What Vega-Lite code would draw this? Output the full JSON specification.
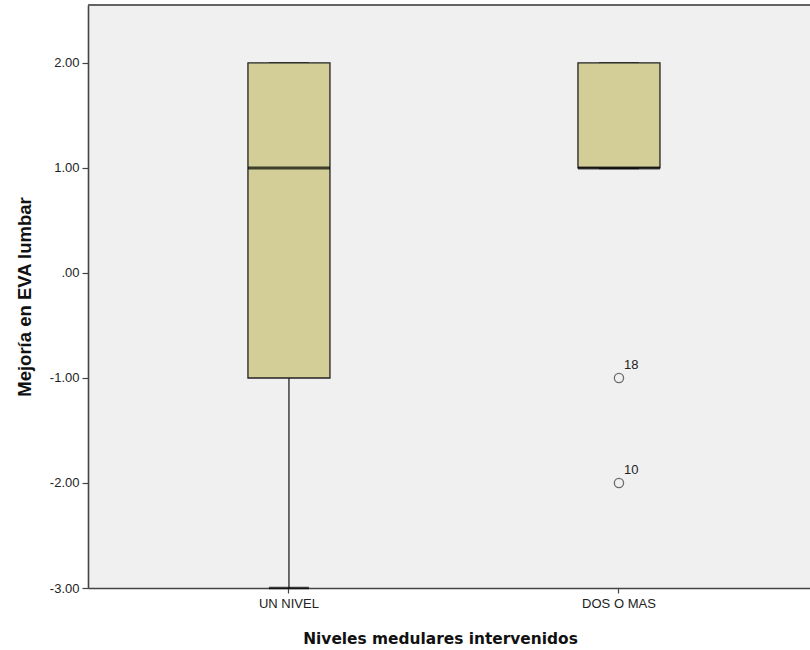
{
  "$schema": "https://vega.github.io/schema/vega-lite/v6.json",
  "width": 722,
  "height": 583,
  "autosize": {"type": "none"},
  "padding": {"left": 88, "top": 5, "right": 0, "bottom": 62},
  "background": "white",
  "config": {
    "view": {"fill": "#f0f0f0", "stroke": null},
    "axis": {
      "labelFont": "Liberation Sans",
      "labelFontSize": 13,
      "labelColor": "#222222",
      "titleFont": "DejaVu Sans",
      "titleFontWeight": "bold",
      "titleFontSize": 15.4,
      "titleColor": "#111111",
      "domainColor": "#444444",
      "domainWidth": 1.6,
      "tickColor": "#444444",
      "tickWidth": 1.2,
      "grid": false
    }
  },
  "datasets": {
    "boxes": [
      {"grupo": "UN NIVEL", "lower": -3, "q1": -1, "median": 1, "q3": 2, "upper": 2},
      {"grupo": "DOS O MAS", "lower": 1, "q1": 1, "median": 1, "q3": 2, "upper": 2}
    ],
    "outliers": [
      {"grupo": "DOS O MAS", "valor": -1, "caso": "18"},
      {"grupo": "DOS O MAS", "valor": -2, "caso": "10"}
    ]
  },
  "encoding": {
    "x": {
      "field": "grupo",
      "type": "nominal",
      "sort": ["UN NIVEL", "DOS O MAS"],
      "scale": {"paddingInner": 0, "paddingOuter": 0.0939, "align": 0.58},
      "axis": {
        "title": "Niveles medulares intervenidos",
        "labelAngle": 0,
        "tickSize": 5,
        "labelPadding": 4,
        "titlePadding": 21,
        "titleX": 352
      }
    }
  },
  "layer": [
    {
      "data": {"name": "boxes"},
      "mark": {"type": "rule", "color": "#111111", "strokeWidth": 1.2},
      "encoding": {
        "y": {
          "field": "lower",
          "type": "quantitative",
          "scale": {"domain": [-3, 2.552], "nice": false, "zero": false},
          "axis": {
            "title": "Mejoría en EVA lumbar",
            "titleFont": "Liberation Sans",
            "titleFontSize": 18.5,
            "values": [-3, -2, -1, 0, 1, 2],
            "labelExpr": "datum.value == 0 ? '.00' : replace(format(datum.value, '.2f'), '\u2212', '-')",
            "tickSize": 6,
            "labelPadding": 3,
            "titlePadding": 15
          }
        },
        "y2": {"field": "upper"}
      }
    },
    {
      "data": {"name": "boxes"},
      "mark": {"type": "rule", "color": "#5a5a5a", "strokeWidth": 1.6},
      "encoding": {"x": null, "y": {"datum": 2.552, "type": "quantitative"}}
    },
    {
      "data": {"name": "boxes"},
      "mark": {"type": "tick", "color": "#000000", "size": 40, "thickness": 2.5},
      "encoding": {"y": {"field": "lower", "type": "quantitative"}}
    },
    {
      "data": {"name": "boxes"},
      "mark": {"type": "tick", "color": "#111111", "size": 40, "thickness": 2},
      "encoding": {"y": {"field": "upper", "type": "quantitative"}}
    },
    {
      "data": {"name": "boxes"},
      "mark": {"type": "bar", "size": 82, "fill": "#d3ce97", "stroke": "#222222", "strokeWidth": 1.3},
      "encoding": {
        "y": {"field": "q1", "type": "quantitative"},
        "y2": {"field": "q3"}
      }
    },
    {
      "data": {"name": "boxes"},
      "mark": {"type": "tick", "color": "#000000", "size": 82, "thickness": 3},
      "encoding": {"y": {"field": "median", "type": "quantitative"}}
    },
    {
      "data": {"name": "outliers"},
      "mark": {"type": "point", "shape": "circle", "size": 85, "filled": false, "stroke": "#333333", "strokeWidth": 1.3},
      "encoding": {"y": {"field": "valor", "type": "quantitative"}}
    },
    {
      "data": {"name": "outliers"},
      "mark": {"type": "text", "font": "Liberation Sans", "fontSize": 13, "color": "#222222", "align": "left", "dx": 5, "dy": -13},
      "encoding": {
        "y": {"field": "valor", "type": "quantitative"},
        "text": {"field": "caso"}
      }
    }
  ]
}
